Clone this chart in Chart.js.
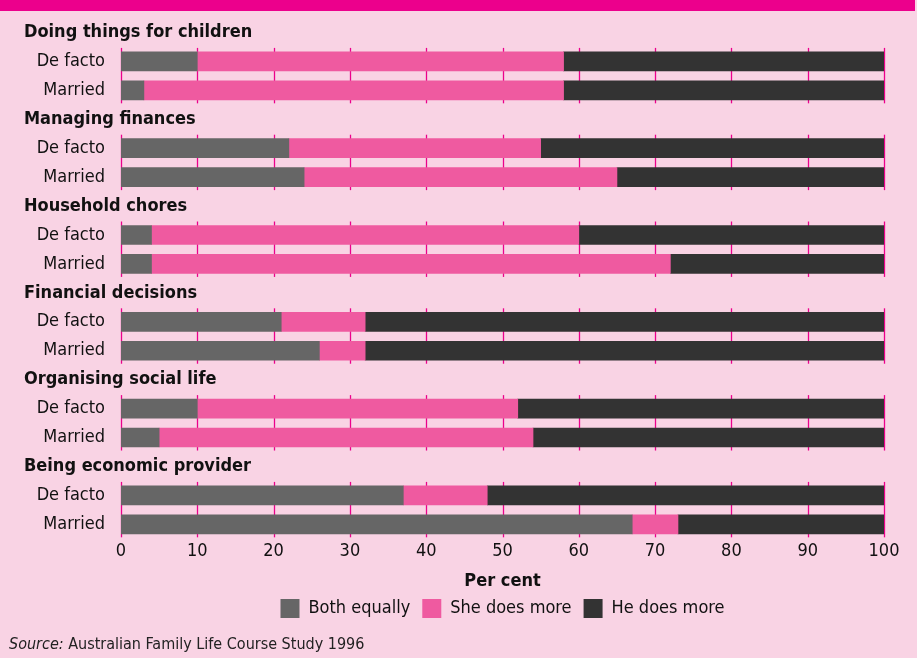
<!DOCTYPE html>
<html>
<head>
<meta charset="utf-8">
<script src="https://cdn.jsdelivr.net/npm/chart.js@4"></script>
<style>
  body { margin: 0; background: #F9D3E4; }
  #band { position: absolute; left: 0; top: 0; width: 915px; height: 11px; background: #EC008C; }
  #wrap { position: absolute; left: 0; top: 0; width: 917px; height: 658px; }
  #source { position: absolute; left: 9px; top: 634px; font: 16px "DejaVu Sans Condensed", sans-serif; color: #222; }
</style>
</head>
<body>
<div id="band"></div>
<div id="wrap"><canvas id="bar-chart"></canvas></div>
<div id="source"><i>Source:</i> Australian Family Life Course Study 1996</div>
<script>
var FONT = '"DejaVu Sans Condensed", sans-serif';

var groups = ['Doing things for children', 'Managing finances', 'Household chores',
              'Financial decisions', 'Organising social life', 'Being economic provider'];
var rowLabels = ['De facto', 'Married'];

// per cent, two rows (De facto, Married) per group
var bothEqually = [10, 3, 22, 24, 4, 4, 21, 26, 10, 5, 37, 67];
var sheDoesMore = [48, 55, 33, 41, 56, 68, 11, 6, 42, 49, 11, 6];
var heDoesMore  = [42, 42, 45, 35, 40, 28, 68, 68, 48, 46, 52, 27];

// one header row + two bar rows per group
var labels = [];
function expand(arr) {
  var out = [];
  groups.forEach(function(g, i) {
    out.push(null, arr[i * 2], arr[i * 2 + 1]);
  });
  return out;
}
groups.forEach(function(g) {
  labels.push(g, rowLabels[0], rowLabels[1]);
});

var groupPlugin = {
  id: 'groups',
  afterLayout: function(chart) {
    // centre the legend under the plot area, like the x title
    chart.legend.left = chart.chartArea.left;
    chart.legend.right = chart.chartArea.right;
  },
  beforeDatasetsDraw: function(chart) {
    var ctx = chart.ctx, x = chart.scales.x, y = chart.scales.y;
    ctx.save();
    ctx.strokeStyle = '#EC008C';
    ctx.lineWidth = 1.3;
    groups.forEach(function(g, i) {
      var top = y.getPixelForValue(i * 3 + 1) - 13.5;
      var bot = y.getPixelForValue(i * 3 + 2) + 13;
      x.ticks.forEach(function(t) {
        var px = Math.round(x.getPixelForValue(t.value)) + 0.5;
        ctx.beginPath();
        ctx.moveTo(px, top);
        ctx.lineTo(px, bot);
        ctx.stroke();
      });
    });
    ctx.restore();
  },
  afterDraw: function(chart) {
    var ctx = chart.ctx, y = chart.scales.y;
    ctx.save();
    ctx.font = 'bold 18px ' + FONT;
    ctx.fillStyle = '#111';
    ctx.textAlign = 'left';
    ctx.textBaseline = 'middle';
    groups.forEach(function(g, i) {
      ctx.fillText(g, 24, y.getPixelForValue(i * 3));
    });
    ctx.restore();
  }
};

new Chart(document.getElementById('bar-chart'), {
  type: 'bar',
  data: {
    labels: labels,
    datasets: [{
        label: 'Both equally',
        data: expand(bothEqually),
        backgroundColor: '#666666'
      }, {
        label: 'She does more',
        data: expand(sheDoesMore),
        backgroundColor: '#EF5AA0'
      }, {
        label: 'He does more',
        data: expand(heDoesMore),
        backgroundColor: '#333333'
      }
    ]
  },
  plugins: [groupPlugin],
  options: {
    indexAxis: 'y',
    responsive: true,
    maintainAspectRatio: false,
    animation: false,
    barThickness: 19,
    layout: { padding: { top: 18, right: 33, bottom: 30, left: 0 } },
    scales: {
      x: {
        stacked: true,
        min: 0,
        max: 100,
        grid: { display: false, drawTicks: false },
        border: { display: false },
        ticks: { stepSize: 10, padding: 2, color: '#111', font: { family: FONT, size: 18 } },
        title: {
          display: true,
          text: 'Per cent',
          color: '#111',
          padding: { top: 6, bottom: -5 },
          font: { family: FONT, size: 18, weight: 'bold' }
        }
      },
      y: {
        stacked: true,
        grid: { display: false, drawTicks: false },
        border: { display: false },
        afterFit: function(s) { s.width = 121; s.paddingTop = 0; s.paddingBottom = 0; },
        ticks: {
          autoSkip: false,
          padding: 16,
          color: '#111',
          font: { family: FONT, size: 18 },
          callback: function(v, i) { return i % 3 === 0 ? '' : labels[i]; }
        }
      }
    },
    plugins: {
      legend: {
        position: 'bottom',
        labels: {
          boxWidth: 19,
          boxHeight: 19,
          padding: 12,
          color: '#111',
          font: { family: FONT, size: 18 }
        }
      },
      tooltip: { enabled: false }
    }
  }
});
</script>
</body>
</html>
